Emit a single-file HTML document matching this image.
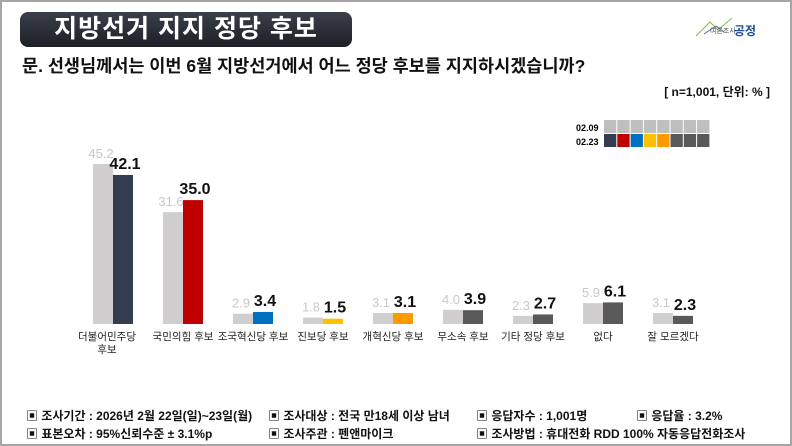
<!DOCTYPE html>
<html><head><meta charset="utf-8"><style>
body{margin:0;width:792px;height:446px;background:#fff;font-family:"Liberation Sans","Noto Sans CJK KR",sans-serif;position:relative;overflow:hidden}
.frame{position:absolute;left:0;top:0;width:788px;height:442px;border:2px solid #a6a6a6}
.title{position:absolute;left:20px;top:12px;width:332px;height:35px;background:linear-gradient(#3a3f4a,#1c1f26);border-radius:8px;color:#fff;font-size:25px;font-weight:bold;line-height:35px;text-align:center;letter-spacing:1px}
.q{position:absolute;left:22px;top:53px;font-size:17.5px;font-weight:bold;color:#111}
.n{position:absolute;right:22px;top:83px;font-size:12px;font-weight:bold;color:#111}
.ft{position:absolute;font-size:12px;font-weight:bold;color:#111;white-space:nowrap}
.lbl{position:absolute;font-size:10.5px;color:#222;text-align:center;width:80px;line-height:13px}
</style></head><body>
<div class="frame"></div>
<div class="title">지방선거 지지 정당 후보</div>
<div style="position:absolute;left:692px;top:16px;width:70px;height:24px">
<svg width="70" height="24"><polyline points="4,20 18,6 26,14 40,2" fill="none" stroke="#7fbf3f" stroke-width="1"/><polyline points="12,18 24,10 32,16" fill="none" stroke="#4a6fa5" stroke-width="1"/></svg>
<div style="position:absolute;left:18px;top:10px;font-size:7px;color:#555">여론조사</div>
<div style="position:absolute;left:42px;top:6px;font-size:12px;font-weight:bold;color:#1f4e99">공정</div>
</div>
<div class="q">문. 선생님께서는 이번 6월 지방선거에서 어느 정당 후보를 지지하시겠습니까?</div>
<div class="n">[ n=1,001, 단위: % ]</div>
<div style="position:absolute;left:576px;top:121px;font-size:9px;font-weight:bold;line-height:14px">02.09<br>02.23</div>
<svg style="position:absolute;left:0;top:0" width="792" height="446">
<g id="leg"></g>
<g id="bars"></g>
</svg>
<script>
const d=[[45.2,42.1,'#333d4f'],[31.6,35.0,'#c00000'],[2.9,3.4,'#0070c0'],[1.8,1.5,'#ffc000'],[3.1,3.1,'#ff9900'],[4.0,3.9,'#595959'],[2.3,2.7,'#595959'],[5.9,6.1,'#595959'],[3.1,2.3,'#595959']];
const names=['더불어민주당<br>후보','국민의힘 후보','조국혁신당 후보','진보당 후보','개혁신당 후보','무소속 후보','기타 정당 후보','없다','잘 모르겠다'];
let s='',base=324,k=3.54;
d.forEach((v,i)=>{const c=113+70*i;
const h1=v[0]*k,h2=v[1]*k;
s+=`<rect x="${c-20}" y="${base-h1}" width="20" height="${h1}" fill="#d0cece"/>`;
s+=`<rect x="${c}" y="${base-h2}" width="20" height="${h2}" fill="${v[2]}"/>`;
s+=`<text x="${c-12}" y="${base-h1-6}" font-size="13" fill="#c8c8c8" text-anchor="middle">${v[0].toFixed(1)}</text>`;
s+=`<text x="${c+12}" y="${base-h2-6}" font-size="16" font-weight="bold" fill="#111" text-anchor="middle">${v[1].toFixed(1)}</text>`;
document.body.insertAdjacentHTML('beforeend',`<div class="lbl" style="left:${c-40-(i==0?6:0)}px;top:331px">${names[i]}</div>`);
});
document.getElementById('bars').innerHTML=s;
const cols=['#333d4f','#c00000','#0070c0','#ffc000','#ff9900','#595959','#595959','#595959'];
let l='';cols.forEach((c,i)=>{l+=`<rect x="${604+i*13.3}" y="120" width="12.3" height="13" fill="#bfbfbf"/><rect x="${604+i*13.3}" y="134" width="12.3" height="13" fill="${c}"/>`});
document.getElementById('leg').innerHTML=l;
</script>
<div class="ft" style="left:26px;top:407px">▣ 조사기간 : 2026년 2월 22일(일)~23일(월)</div>
<div class="ft" style="left:268px;top:407px">▣ 조사대상 : 전국 만18세 이상 남녀</div>
<div class="ft" style="left:476px;top:407px">▣ 응답자수 : 1,001명</div>
<div class="ft" style="left:636px;top:407px">▣ 응답율 : 3.2%</div>
<div class="ft" style="left:26px;top:425px">▣ 표본오차 : 95%신뢰수준 ± 3.1%p</div>
<div class="ft" style="left:268px;top:425px">▣ 조사주관 : 펜앤마이크</div>
<div class="ft" style="left:476px;top:425px">▣ 조사방법 : 휴대전화 RDD 100% 자동응답전화조사</div>
</body></html>
